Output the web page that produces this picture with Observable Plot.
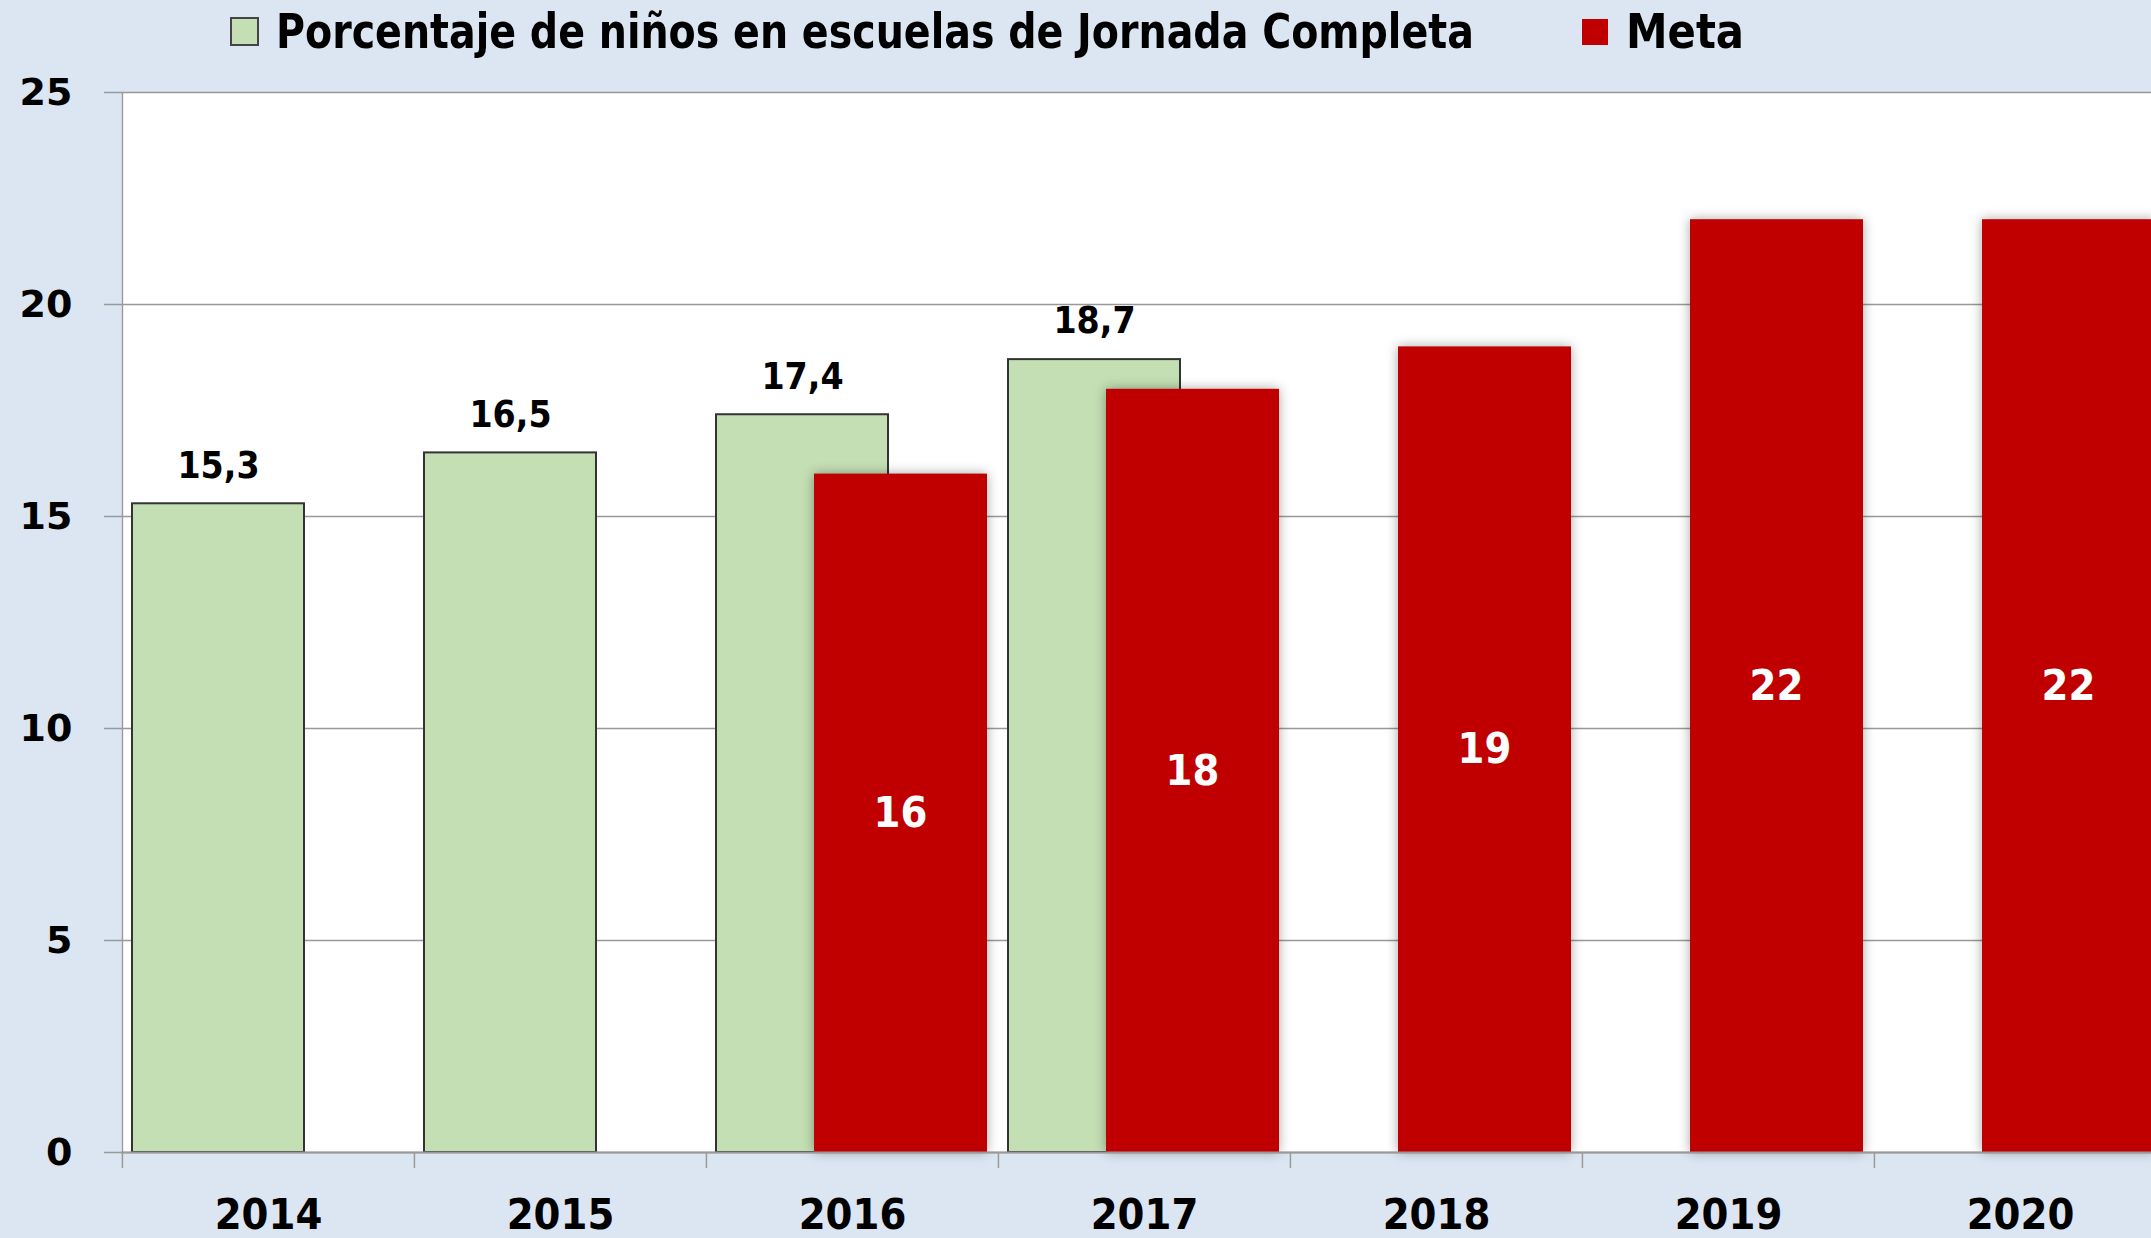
<!DOCTYPE html>
<html><head><meta charset="utf-8">
<script src="https://cdn.jsdelivr.net/npm/d3@7"></script>
<script src="https://cdn.jsdelivr.net/npm/@observablehq/plot@0.6"></script>
<style>
html,body{margin:0;padding:0;background:#dce6f2;overflow:hidden;}
#wrap{width:2151px;height:1238px;position:relative;background:#dce6f2;overflow:hidden;}
#legend{position:relative;height:62px;font-family:"DejaVu Sans",sans-serif;font-weight:bold;font-size:48px;color:#000;}
.sw{position:absolute;box-sizing:border-box;}
.lt{position:absolute;top:0;height:62px;line-height:62px;white-space:nowrap;transform-origin:0 50%;}
#chart svg{display:block;}
</style></head><body>
<div id="wrap"><div id="legend"></div><div id="chart"></div></div>
<script>
const years = ["2014","2015","2016","2017","2018","2019","2020"];
const actualYears = ["2014","2015","2016","2017"];
const actualValues = [15.3, 16.5, 17.4, 18.7];
const goalYears = ["2016","2017","2018","2019","2020"];
const goalValues = [16, 18, 19, 22, 22];
const yTicks = [0, 5, 10, 15, 20, 25];
const seriesNames = ["Porcentaje de niños en escuelas de Jornada Completa", "Meta"];
const seriesColors = ["#c4dfb4", "#c00000"];

const actual = actualYears.map((y, i) => ({year: y, value: actualValues[i]}));
const goal = goalYears.map((y, i) => ({year: y, value: goalValues[i]}));
const fmt = v => String(v).replace(".", ",");

// legend
const legend = document.getElementById("legend");
legend.innerHTML = `
  <div class="sw" style="left:230px;top:17px;width:29px;height:29px;background:${seriesColors[0]};border:2px solid #444;"></div>
  <div class="lt" style="left:276px;transform:scaleX(0.824);">${seriesNames[0]}</div>
  <div class="sw" style="left:1582px;top:19px;width:26px;height:26px;background:${seriesColors[1]};"></div>
  <div class="lt" style="left:1626px;transform:scaleX(0.87);">${seriesNames[1]}</div>`;

const half = (2166 - 121) / years.length / 2;
const grid = "#999999";
const cond = "DejaVu Sans Condensed, DejaVu Sans, sans-serif";

const chart = Plot.plot({
  width: 2151, height: 1176,
  marginLeft: 121, marginRight: 0, marginTop: 30, marginBottom: 86,
  style: {background: "transparent", fontFamily: "DejaVu Sans, sans-serif", overflow: "hidden"},
  x: {domain: years, range: [121, 2166], padding: 0, axis: null, label: null},
  y: {domain: [0, 25], range: [1090, 30], axis: null, label: null},
  marks: [
    Plot.frame({fill: "white", stroke: null}),
    Plot.gridY(yTicks, {stroke: grid, strokeOpacity: 1, strokeWidth: 1.5}),
    Plot.axisY(yTicks, {label: null, tickSize: 17, tickFormat: () => "", stroke: grid, strokeWidth: 1.5}),
    Plot.axisY(yTicks, {label: null, tickSize: 0, tickPadding: 49, fontSize: 38, fontWeight: "bold", fill: "black", tickFormat: d => String(d)}),
    Plot.axisX(years, {label: null, tickSize: 16, tickFormat: () => "", dx: -half, stroke: grid, strokeWidth: 1.5}),
    Plot.axisX(years, {label: null, tickSize: 0, tickPadding: 46, fontSize: 43, fontFamily: cond, fontWeight: "bold", fill: "black"}),
    Plot.ruleX(["2014"], {x: d => d, y1: 0, y2: 25, dx: -half, stroke: grid, strokeWidth: 1.5}),
    Plot.barY(actual, {x: "year", y: "value", fill: seriesColors[0], stroke: "#333", strokeWidth: 2, insetLeft: 10, insetRight: 110}),
    Plot.barY(goal, {x: "year", y: "value", fill: seriesColors[1], insetLeft: 108, insetRight: 11}),
    Plot.ruleY([0], {stroke: grid, strokeWidth: 2}),
    Plot.text(actual, {x: "year", y: "value", text: d => fmt(d.value), dx: -50, dy: -38, fontSize: 37, fontFamily: cond, fontWeight: "bold", fill: "black"}),
    Plot.text(goal, {x: "year", y: d => d.value / 2, text: d => fmt(d.value), dx: 48, fontSize: 43, fontFamily: cond, fontWeight: "bold", fill: "white"})
  ]
});
document.getElementById("chart").appendChild(chart);
const bars = chart.querySelectorAll('g[aria-label="bar"]');
if (bars.length > 1) bars[1].style.filter = "drop-shadow(0px 0px 6px rgba(0,0,0,0.35))";
</script>
</body></html>
